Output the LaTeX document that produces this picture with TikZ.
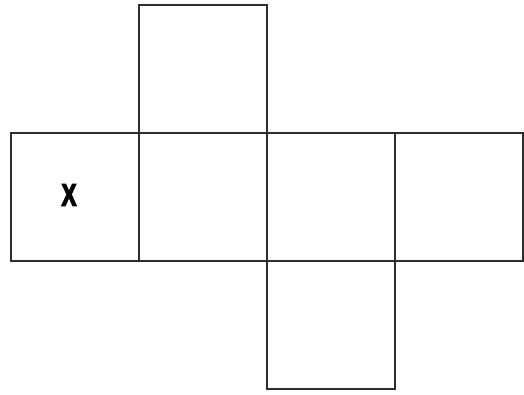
\documentclass[tikz,border=0pt]{standalone}
\usepackage{fontspec}
\setmainfont{Liberation Sans}
\newfontfamily\markfont[FakeStretch=0.72,FakeBold=3.5]{Liberation Sans}
\usetikzlibrary{positioning}
\definecolor{NetLine}{RGB}{45,45,45}

\begin{document}
\begin{tikzpicture}[
  face/.style={draw=NetLine,line width=0.6pt,minimum size=2.56cm,inner sep=0pt,outer sep=0pt},
  node distance=0pt]
  \useasboundingbox (0,0) rectangle (10.48,7.88);
  \node[face] (left) at (1.5,3.94) {};
  \node[face,right=of left] (front) {};
  \node[face,right=of front] (right) {};
  \node[face,right=of right] (back) {};
  \node[face,above=of front] (top) {};
  \node[face,below=of right] (bottom) {};
  \node[font=\markfont\bfseries\fontsize{18}{19}\selectfont,xshift=-0.12cm,yshift=0.04cm] (mark) at (left.center) {X};
\end{tikzpicture}
\end{document}
